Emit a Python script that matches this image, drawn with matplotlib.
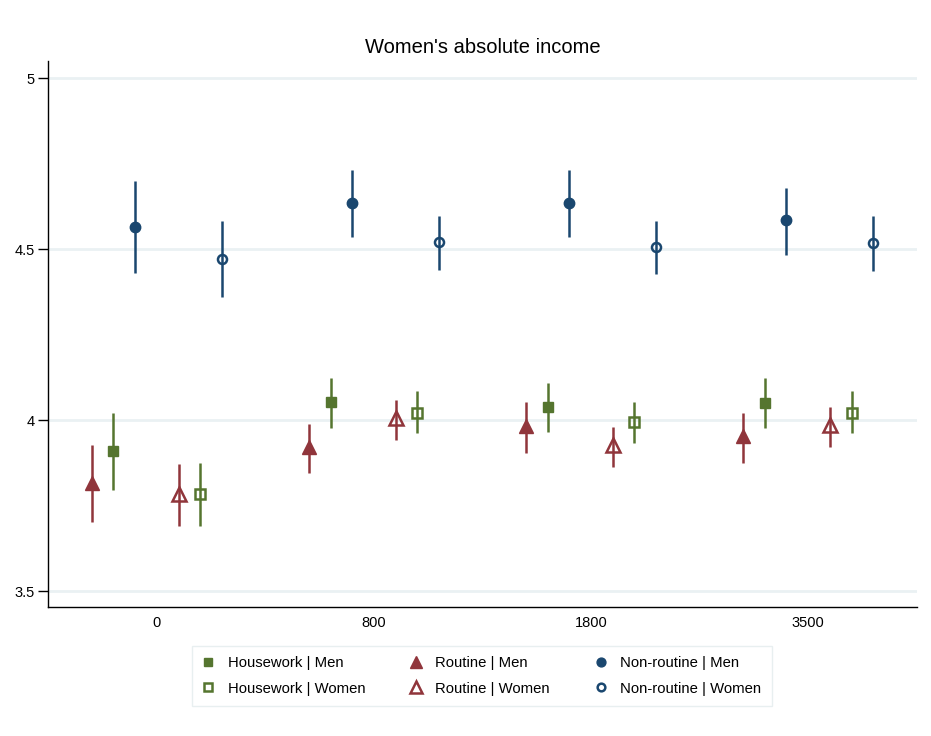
import matplotlib
matplotlib.use("Agg")
import matplotlib.pyplot as plt
from matplotlib.lines import Line2D
import numpy as np

plt.rcParams["font.family"] = ["Liberation Sans", "DejaVu Sans"]

categories = ["0", "800", "1800", "3500"]

routine_men = [3.817, 3.922, 3.982, 3.954]
routine_men_lo = [3.702, 3.845, 3.905, 3.876]
routine_men_hi = [3.928, 3.990, 4.052, 4.022]

housework_men = [3.910, 4.052, 4.039, 4.051]
housework_men_lo = [3.795, 3.977, 3.964, 3.977]
housework_men_hi = [4.022, 4.123, 4.110, 4.123]

nonroutine_men = [4.566, 4.635, 4.635, 4.584]
nonroutine_men_lo = [4.431, 4.535, 4.535, 4.484]
nonroutine_men_hi = [4.699, 4.730, 4.730, 4.680]

routine_women = [3.783, 4.005, 3.927, 3.985]
routine_women_lo = [3.690, 3.941, 3.864, 3.922]
routine_women_hi = [3.871, 4.059, 3.980, 4.039]

housework_women = [3.783, 4.022, 3.995, 4.022]
housework_women_lo = [3.690, 3.962, 3.933, 3.962]
housework_women_hi = [3.876, 4.084, 4.054, 4.084]

nonroutine_women = [4.472, 4.521, 4.505, 4.519]
nonroutine_women_lo = [4.361, 4.440, 4.426, 4.437]
nonroutine_women_hi = [4.581, 4.598, 4.582, 4.596]

NAVY = "#1a476f"
MAROON = "#90353b"
GREEN = "#55752f"

# (label, est, lo, hi, offset, colour, marker, size, filled)
series = [
    ("Routine | Men", routine_men, routine_men_lo, routine_men_hi, -0.3, MAROON, "^", 10.5, True),
    ("Housework | Men", housework_men, housework_men_lo, housework_men_hi, -0.2, GREEN, "s", 7.5, True),
    ("Non-routine | Men", nonroutine_men, nonroutine_men_lo, nonroutine_men_hi, -0.1, NAVY, "o", 7.5, True),
    ("Routine | Women", routine_women, routine_women_lo, routine_women_hi, 0.1, MAROON, "^", 9.5, False),
    ("Housework | Women", housework_women, housework_women_lo, housework_women_hi, 0.2, GREEN, "s", 6.5, False),
    ("Non-routine | Women", nonroutine_women, nonroutine_women_lo, nonroutine_women_hi, 0.3, NAVY, "o", 6.5, False),
]

fig = plt.figure(figsize=(9.31, 7.36), dpi=100)
ax = fig.add_axes([48.3 / 931, 1 - 607.3 / 736, (916.7 - 48.3) / 931, (607.3 - 61) / 736])

x = np.arange(len(categories))
handles = {}
for label, est, lo, hi, off, col, mk, ms, filled in series:
    xs = x + off
    ax.vlines(xs, lo, hi, color=col, linewidth=1.8, zorder=3)
    face = col if filled else "none"
    ax.plot(xs, est, linestyle="none", marker=mk, markersize=ms,
            markerfacecolor=face, markeredgecolor=col,
            markeredgewidth=1.0 if filled else 1.8, zorder=2)
    handles[label] = Line2D([], [], linestyle="none", marker=mk, markersize=ms * 0.85,
                            markerfacecolor=face, markeredgecolor=col,
                            markeredgewidth=1.0 if filled else 1.8)

ax.set_xlim(-0.5, 3.5)
ax.set_ylim(3.453, 5.05)
ax.set_xticks(x)
ax.set_xticklabels(categories, fontsize=10.5)
ax.set_yticks([3.5, 4, 4.5, 5])
ax.set_yticklabels(["3.5", "4", "4.5", "5"], fontsize=10.5)
ax.tick_params(axis="x", length=0, pad=6)
ax.tick_params(axis="y", length=7, width=1, pad=3)
ax.yaxis.grid(True, color="#eaf1f3", linewidth=2)
ax.set_axisbelow(True)
for side in ("top", "right"):
    ax.spines[side].set_visible(False)
for side in ("left", "bottom"):
    ax.spines[side].set_linewidth(1.0)

ax.set_title("Women's absolute income", fontsize=14.5, pad=6)

order = ["Housework | Men", "Housework | Women", "Routine | Men", "Routine | Women",
         "Non-routine | Men", "Non-routine | Women"]
leg = fig.legend([handles[k] for k in order], order, ncol=3, loc="center",
                 bbox_to_anchor=(482 / 931, 1 - 676 / 736), fontsize=10.7,
                 frameon=True, fancybox=False, edgecolor="#e3ebed",
                 handlelength=0.8, handletextpad=0.88, columnspacing=3.05,
                 labelspacing=0.75, borderpad=0.7)
leg.get_frame().set_linewidth(1.0)

fig.savefig("out.png", dpi=100, facecolor="white")
